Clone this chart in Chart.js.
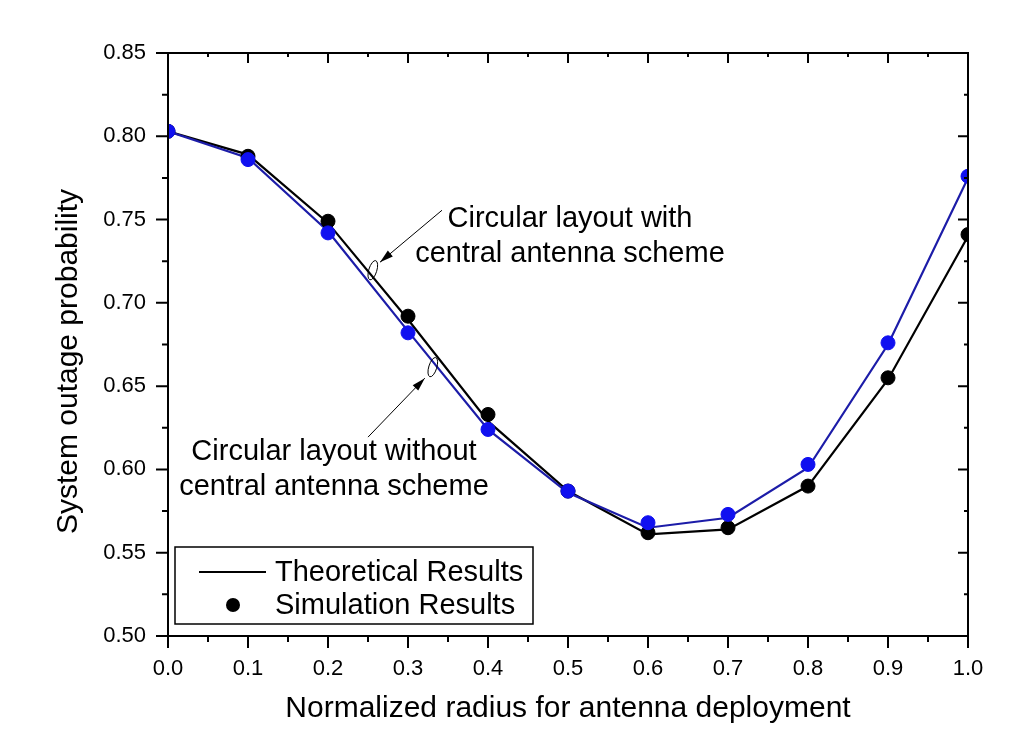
<!DOCTYPE html>
<html>
<head>
<meta charset="utf-8">
<script src="https://cdn.jsdelivr.net/npm/chart.js"></script>
<style>
  html, body { margin: 0; padding: 0; background: #fff; }
  canvas { display: block; }
</style>
</head>
<body>
<canvas id="chart" width="1012" height="750"></canvas>
<script>
// ---- data ----
var radius = [0.0, 0.1, 0.2, 0.3, 0.4, 0.5, 0.6, 0.7, 0.8, 0.9, 1.0];

// circular layout WITH central antenna (black)
var theoryWith = [0.803, 0.789, 0.748, 0.690, 0.629, 0.587, 0.561, 0.564, 0.590, 0.654, 0.740];
var simWith    = [0.803, 0.788, 0.749, 0.692, 0.633, 0.587, 0.562, 0.565, 0.590, 0.655, 0.741];

// circular layout WITHOUT central antenna (blue)
var theoryWithout = [0.803, 0.787, 0.743, 0.683, 0.624, 0.586, 0.565, 0.571, 0.601, 0.675, 0.775];
var simWithout    = [0.803, 0.786, 0.742, 0.682, 0.624, 0.587, 0.568, 0.573, 0.603, 0.676, 0.776];

var xTitle = 'Normalized radius for antenna deployment';
var yTitle = 'System outage probability';
var legendLabels = ['Theoretical Results', 'Simulation Results'];
var noteWith = ['Circular layout with', 'central antenna scheme'];
var noteWithout = ['Circular layout without', 'central antenna scheme'];

var FONT = '"Liberation Sans", Arial, Helvetica, sans-serif';
var BLUE_LINE = '#1c1ca8';
var BLUE_DOT = '#1010f0';

function pts(ys) {
  return radius.map(function (x, i) { return { x: x, y: ys[i] }; });
}

// annotation placement, in data units
var notes = [
  { text: noteWith, x: 0.5025, y: 0.740, from: [0.3425, 0.7556], tip: [0.265, 0.7244], oval: [0.256, 0.7196] },
  { text: noteWithout, x: 0.2075, y: 0.600, from: [0.25, 0.6194], tip: [0.321, 0.6548], oval: [0.331, 0.6614] }
];

// frame, ticks (major + minor), y title, legend box and notes
var framePlugin = {
  id: 'frame',
  afterDraw: function (chart) {
    var ctx = chart.ctx;
    var a = chart.chartArea;
    var xs = chart.scales.x, ys = chart.scales.y;
    ctx.save();
    ctx.strokeStyle = '#000';
    ctx.lineWidth = 2;
    ctx.strokeRect(a.left, a.top, a.right - a.left, a.bottom - a.top);

    ctx.beginPath();
    xs.ticks.forEach(function (t, i) {
      var px = xs.getPixelForTick(i);
      var len = i % 2 === 0 ? 12 : 6;
      ctx.moveTo(px, a.bottom); ctx.lineTo(px, a.bottom + len);
      ctx.moveTo(px, a.top); ctx.lineTo(px, a.top + len - 2);
    });
    ys.ticks.forEach(function (t, i) {
      var py = ys.getPixelForTick(i);
      var len = i % 2 === 0 ? 12 : 6;
      ctx.moveTo(a.left - len, py); ctx.lineTo(a.left, py);
      ctx.moveTo(a.right - len + 2, py); ctx.lineTo(a.right, py);
    });
    ctx.stroke();

    // y axis title (sits a little below the plot centre, as in the figure)
    ctx.fillStyle = '#000';
    ctx.font = '30px ' + FONT;
    ctx.textAlign = 'center';
    ctx.textBaseline = 'middle';
    ctx.save();
    ctx.translate(69, (a.top + a.bottom) / 2 + 17);
    ctx.rotate(-Math.PI / 2);
    ctx.fillText(yTitle, 0, 0);
    ctx.restore();

    // legend
    var lx = a.left + 7, ly = a.bottom - 89;
    ctx.lineWidth = 1.5;
    ctx.strokeRect(lx, ly, 358, 77);
    ctx.lineWidth = 2;
    ctx.beginPath();
    ctx.moveTo(lx + 24, ly + 25); ctx.lineTo(lx + 91, ly + 25);
    ctx.stroke();
    ctx.beginPath();
    ctx.arc(lx + 58, ly + 58, 7, 0, Math.PI * 2);
    ctx.fill();
    ctx.font = '29px ' + FONT;
    ctx.textAlign = 'left';
    ctx.fillText(legendLabels[0], lx + 100, ly + 26);
    ctx.fillText(legendLabels[1], lx + 100, ly + 59);

    // notes with arrows and small ovals
    notes.forEach(function (n) {
      ctx.textAlign = 'center';
      var cx = xs.getPixelForValue(n.x), cy = ys.getPixelForValue(n.y);
      ctx.fillText(n.text[0], cx, cy - 17);
      ctx.fillText(n.text[1], cx, cy + 18);

      var fx = xs.getPixelForValue(n.from[0]), fy = ys.getPixelForValue(n.from[1]);
      var tx = xs.getPixelForValue(n.tip[0]), ty = ys.getPixelForValue(n.tip[1]);
      ctx.lineWidth = 1;
      ctx.beginPath();
      ctx.moveTo(fx, fy); ctx.lineTo(tx, ty);
      ctx.stroke();
      var ang = Math.atan2(ty - fy, tx - fx);
      ctx.beginPath();
      ctx.moveTo(tx, ty);
      ctx.lineTo(tx - 14 * Math.cos(ang - 0.28), ty - 14 * Math.sin(ang - 0.28));
      ctx.lineTo(tx - 14 * Math.cos(ang + 0.28), ty - 14 * Math.sin(ang + 0.28));
      ctx.closePath();
      ctx.fill();

      var ox = xs.getPixelForValue(n.oval[0]), oy = ys.getPixelForValue(n.oval[1]);
      ctx.beginPath();
      ctx.ellipse(ox, oy, 4, 10, 0.3, 0, Math.PI * 2);
      ctx.stroke();
    });
    ctx.restore();
  }
};

new Chart(document.getElementById('chart'), {
  type: 'line',
  data: {
    datasets: [
      { label: 'theory with', data: pts(theoryWith), borderColor: '#000', borderWidth: 2.2, pointRadius: 0, order: 4 },
      { label: 'theory without', data: pts(theoryWithout), borderColor: BLUE_LINE, borderWidth: 2.2, pointRadius: 0, order: 3 },
      { label: 'sim with', data: pts(simWith), showLine: false, pointRadius: 7, pointBackgroundColor: '#000', pointBorderColor: '#000', order: 2 },
      { label: 'sim without', data: pts(simWithout), showLine: false, pointRadius: 7, pointBackgroundColor: BLUE_DOT, pointBorderColor: BLUE_DOT, order: 1 }
    ]
  },
  options: {
    responsive: false,
    animation: false,
    events: [],
    layout: { padding: { top: 53, right: 44, left: 0, bottom: 0 } },
    plugins: { legend: { display: false }, tooltip: { enabled: false } },
    scales: {
      x: {
        type: 'linear', min: 0, max: 1,
        afterFit: function (s) { s.height = 114; },
        grid: { display: false, drawTicks: false },
        border: { display: false },
        ticks: {
          stepSize: 0.05, padding: 20, color: '#000', maxRotation: 0, autoSkip: false,
          font: { family: FONT, size: 22 },
          callback: function (v, i) { return i % 2 === 0 ? Number(v).toFixed(1) : ''; }
        },
        title: { display: true, text: xTitle, color: '#000', font: { family: FONT, size: 30 }, padding: { bottom: 23 } }
      },
      y: {
        min: 0.5, max: 0.85,
        afterFit: function (s) { s.width = 168; },
        grid: { display: false, drawTicks: false },
        border: { display: false },
        ticks: {
          stepSize: 0.025, padding: 22, color: '#000', autoSkip: false,
          font: { family: FONT, size: 22 },
          callback: function (v, i) { return i % 2 === 0 ? Number(v).toFixed(2) : ''; }
        },
        title: { display: false }
      }
    }
  },
  plugins: [framePlugin]
});
</script>
</body>
</html>
